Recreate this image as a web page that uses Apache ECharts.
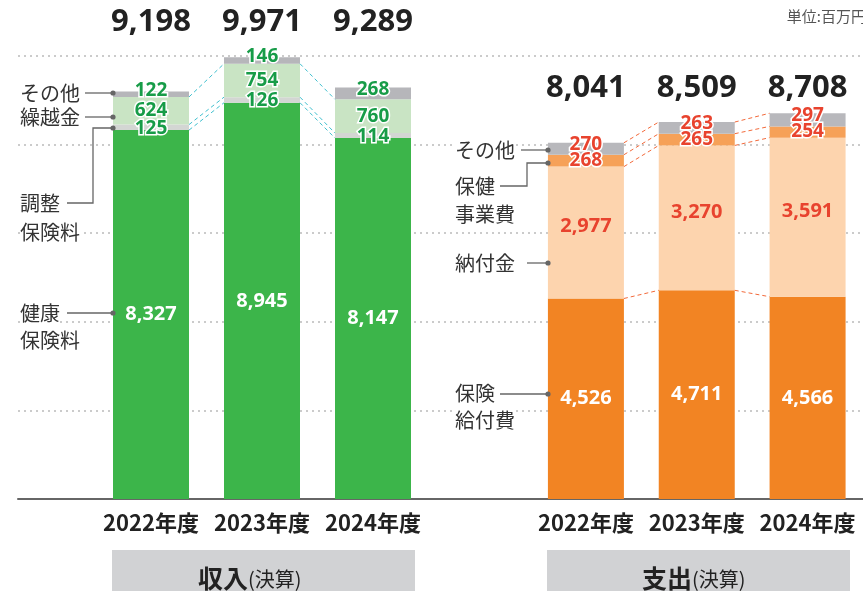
<!DOCTYPE html>
<html>
<head>
<meta charset="utf-8">
<script src="https://cdn.jsdelivr.net/npm/echarts@6/dist/echarts.min.js"></script>
<style>
html, body { margin: 0; padding: 0; background: #fff; }
#chart { width: 863px; height: 591px; }
</style>
</head>
<body>
<div id="chart"></div>
<script>
const years = ['2022年度', '2023年度', '2024年度']
// 収入（決算）
const kenkoHoken = [8327, 8945, 8147]
const choseiHoken = [125, 126, 114]
const kurikoshi = [624, 754, 760]
const inOther = [122, 146, 268]
const inTotal = [9198, 9971, 9289]
// 支出（決算）
const kyufu = [4526, 4711, 4566]
const nofu = [2977, 3270, 3591]
const hokenJigyo = [268, 265, 254]
const outOther = [270, 263, 297]
const outTotal = [8041, 8509, 8708]
const yMax = 10000
const yStep = 2000

const JP = '"Noto Sans CJK JP"'
const NUM = '"Noto Sans"'
const addCommas = echarts.format.addCommas
const BAR_W = 76

function cum(...arrs) {
  return arrs[0].map((_, i) => arrs.reduce((s, a) => s + a[i], 0))
}

// connector rows [i, level at i, level at i+1]
function links(levels) {
  const rows = []
  levels.forEach(lv => {
    for (let i = 0; i < lv.length - 1; i++) rows.push([i, lv[i], lv[i + 1]])
  })
  return rows
}

function numLabel(color, size, border, offset) {
  return {
    show: true,
    position: 'inside',
    offset: offset || [0, 0],
    color: color,
    fontSize: size,
    fontWeight: 'bold',
    fontFamily: NUM,
    textBorderColor: border ? '#fff' : 'transparent',
    textBorderWidth: border ? 3 : 0,
    formatter: p => addCommas(p.value)
  }
}

function bar(name, data, idx, stack, color, label) {
  return {
    name, type: 'bar', xAxisIndex: idx, yAxisIndex: idx, stack, data,
    barWidth: BAR_W, itemStyle: { color }, label, z: 3
  }
}

function connector(idx, rows, color) {
  return {
    type: 'custom', xAxisIndex: idx, yAxisIndex: idx, data: rows,
    encode: { x: 0, y: [1, 2] }, z: 4, silent: true,
    renderItem: (params, api) => {
      const p1 = api.coord([api.value(0), api.value(1)])
      const p2 = api.coord([api.value(0) + 1, api.value(2)])
      return {
        type: 'line',
        shape: { x1: p1[0] + BAR_W / 2, y1: p1[1], x2: p2[0] - BAR_W / 2, y2: p2[1] },
        style: { stroke: color, lineWidth: 1, lineDash: [4, 3] }
      }
    }
  }
}

function totals(idx, vals, rowY) {
  return {
    type: 'custom', xAxisIndex: idx, yAxisIndex: idx,
    data: vals.map((v, i) => [i, v]), encode: { x: 0, y: 1 }, silent: true,
    renderItem: (params, api) => {
      const x = api.coord([api.value(0), 0])[0]
      return {
        type: 'text', x: x, y: rowY,
        style: {
          text: addCommas(api.value(1)), align: 'center', verticalAlign: 'middle',
          fill: '#222', font: 'bold 31px ' + NUM
        }
      }
    }
  }
}

const catAxis = idx => ({
  type: 'category', gridIndex: idx, data: years,
  axisLine: { show: false }, axisTick: { show: false },
  axisLabel: { interval: 0, margin: 13, color: '#222', fontSize: 22, fontWeight: 'bold', fontFamily: JP }
})
const hiddenY = idx => ({ type: 'value', gridIndex: idx, min: 0, max: yMax, show: false })

// annotation helpers (layout only)
const txt = (s, x, y) => ({
  type: 'text', x, y, z: 20,
  style: { text: s, fill: '#333', font: '20px ' + JP, verticalAlign: 'middle', backgroundColor: '#fff' }
})
const seg = pts => ({
  type: 'polyline', z: 20, shape: { points: pts },
  style: { stroke: '#666', lineWidth: 1.3, fill: null }
})
const dot = (x, y) => ({ type: 'circle', z: 21, shape: { cx: x, cy: y, r: 2.6 }, style: { fill: '#666' } })
// box title: bold word + (決算), split at x
const heading = (a, x) => [
  {
    type: 'text', x, y: 578, z: 5,
    style: { text: a, align: 'right', verticalAlign: 'middle', fill: '#222', font: 'bold 25px ' + JP }
  },
  {
    type: 'text', x, y: 579, z: 5,
    style: { text: '(決算)', align: 'left', verticalAlign: 'middle', fill: '#222', font: '20px ' + JP }
  }
]

const green = '#3cb54a'
const red = '#e8432e'
const inLabelColor = '#179c48'

const chart = echarts.init(document.getElementById('chart'))
chart.setOption({
  animation: false,
  grid: [
    { left: 18, right: 0, top: 56, bottom: 92 },
    { left: 95.5, width: 333, top: 56, bottom: 92 },
    { left: 530.5, width: 337, top: 56, bottom: 92 }
  ],
  xAxis: [
    {
      type: 'value', gridIndex: 0, min: 0, max: 1,
      axisLine: { show: true, lineStyle: { color: '#666', width: 2 } },
      axisTick: { show: false }, axisLabel: { show: false }, splitLine: { show: false }
    },
    catAxis(1),
    catAxis(2)
  ],
  yAxis: [
    {
      type: 'value', gridIndex: 0, min: 0, max: yMax, interval: yStep,
      axisLine: { show: false }, axisTick: { show: false }, axisLabel: { show: false },
      splitLine: { show: true, lineStyle: { color: '#cbcbcb', width: 2, type: [2, 4] } }
    },
    hiddenY(1),
    hiddenY(2)
  ],
  series: [
    bar('健康保険料', kenkoHoken, 1, 'in', green, numLabel('#fff', 20, false)),
    bar('調整保険料', choseiHoken, 1, 'in', '#d3d6d3', numLabel(inLabelColor, 19, true, [0, 1])),
    bar('繰越金', kurikoshi, 1, 'in', '#c9e4c4', numLabel(inLabelColor, 19, true)),
    bar('その他', inOther, 1, 'in', '#b6b6ba', numLabel(inLabelColor, 19, true, [0, -4])),
    connector(1, links([cum(kenkoHoken), cum(kenkoHoken, choseiHoken), cum(kenkoHoken, choseiHoken, kurikoshi)]), '#3fbfce'),
    totals(1, inTotal, 22),

    bar('保険給付費', kyufu, 2, 'out', '#f28423', numLabel('#fff', 20, false)),
    bar('納付金', nofu, 2, 'out', '#fdd4ae', numLabel(red, 20, false, [0, -6])),
    bar('保健事業費', hokenJigyo, 2, 'out', '#f6a158', numLabel(red, 19, true)),
    bar('その他', outOther, 2, 'out', '#b8b8bc', numLabel(red, 19, true, [0, -4])),
    connector(2, links([cum(kyufu), cum(kyufu, nofu), cum(kyufu, nofu, hokenJigyo), cum(kyufu, nofu, hokenJigyo, outOther)]), '#f2693a'),
    totals(2, outTotal, 88)
  ],
  graphic: [
    { type: 'text', right: -3, top: 9, style: { text: '単位:百万円', fill: '#555', font: '15px ' + JP } },

    // 収入 annotations
    txt('その他', 20, 93), seg([[85, 93], [113, 93]]), dot(113, 93),
    txt('繰越金', 20, 117), seg([[85, 117], [113, 117]]), dot(113, 117),
    txt('調整', 20, 203), txt('保険料', 20, 232),
    seg([[113, 128], [93, 128], [93, 203], [67, 203]]), dot(113, 128),
    txt('健康', 20, 313), txt('保険料', 20, 340),
    seg([[67, 313], [113, 313]]), dot(113, 313),

    // 支出 annotations
    txt('その他', 455, 150), seg([[521, 150], [548, 150]]), dot(548, 150),
    txt('保健', 455, 186), txt('事業費', 455, 214),
    seg([[548, 163], [527, 163], [527, 186], [500, 186]]), dot(548, 163),
    txt('納付金', 455, 263), seg([[527, 263], [548, 263]]), dot(548, 263),
    txt('保険', 455, 393), txt('給付費', 455, 420),
    seg([[500, 394], [548, 394]]), dot(548, 394),

    // section boxes
    { type: 'rect', shape: { x: 112, y: 550, width: 303, height: 42 }, style: { fill: '#d1d2d4' } },
    { type: 'rect', shape: { x: 547, y: 550, width: 303, height: 42 }, style: { fill: '#d1d2d4' } },
    ...heading('収入', 248),
    ...heading('支出', 692)
  ]
})
</script>
</body>
</html>
